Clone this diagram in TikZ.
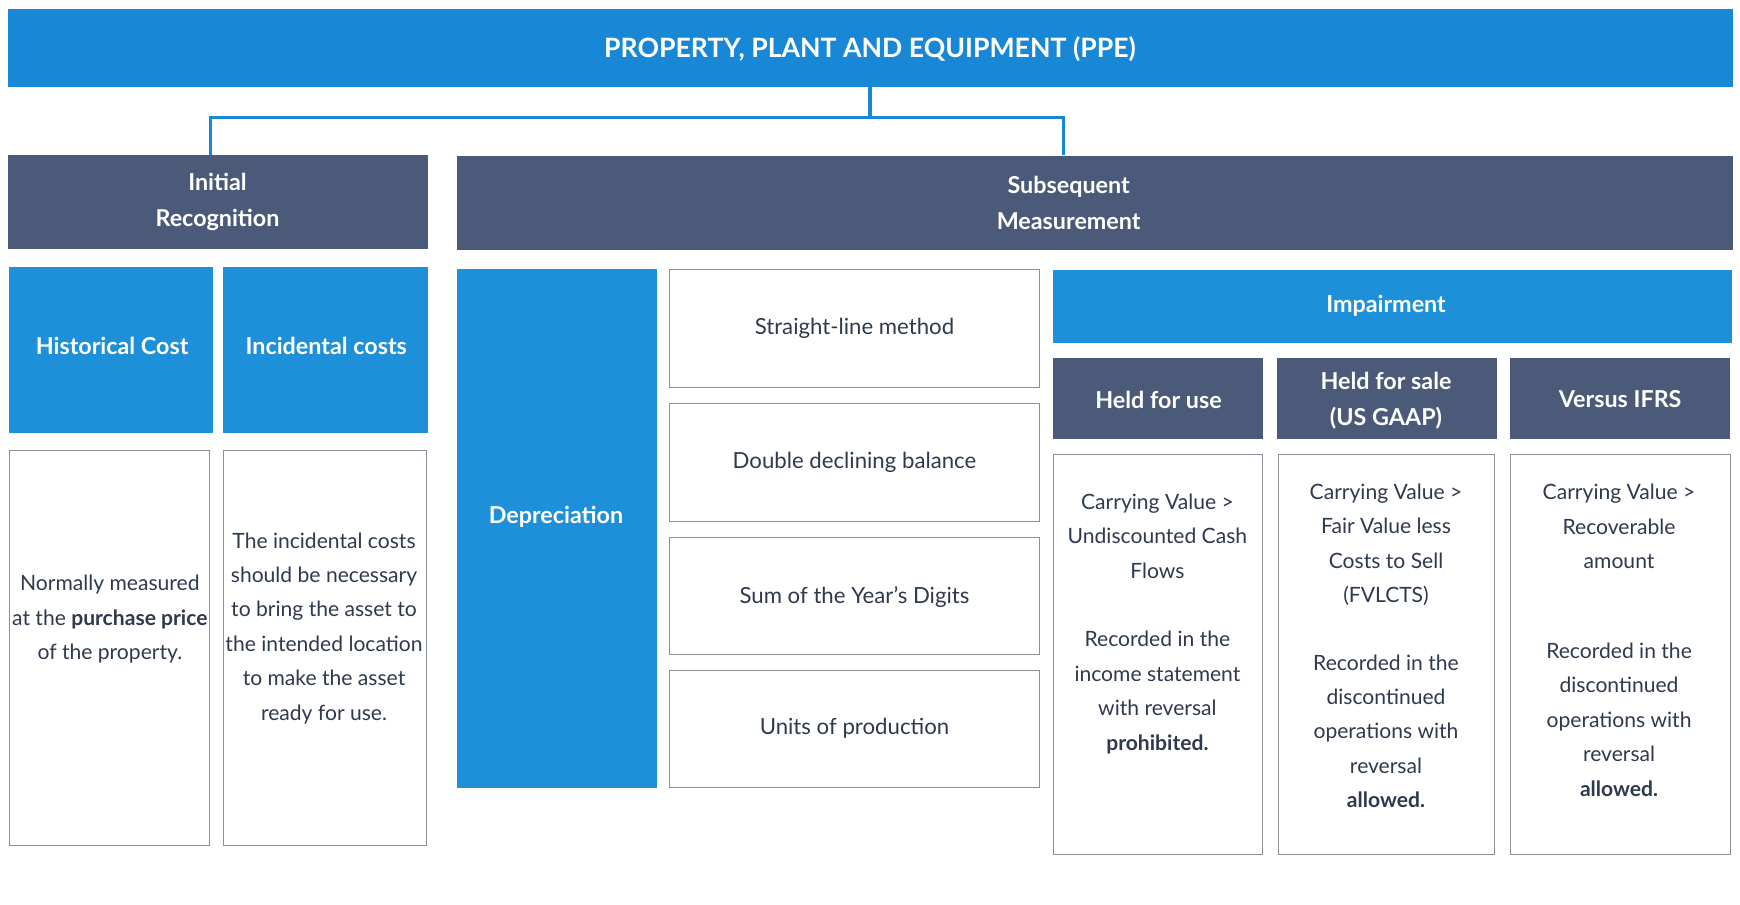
\documentclass[tikz,border=0pt]{standalone}
\usepackage{fontspec}
\setmainfont{Lato}
\definecolor{topblue}{HTML}{1787D6}
\definecolor{lblue}{HTML}{1E90DA}
\definecolor{slate}{HTML}{4A5A78}
\definecolor{txt}{HTML}{2E3A4E}
\definecolor{bord}{HTML}{8A8F98}
\begin{document}
\begin{tikzpicture}[x=1pt,y=-1pt,
 box/.style={draw=bord,line width=0.9pt,fill=white,inner sep=0pt},
 dark/.style={fill=slate,draw=none},
 blue/.style={fill=lblue,draw=none},
 wt/.style={text=white,font=\fontsize{21}{33}\selectfont\bfseries,align=center},
 bt/.style={text=txt,font=\fontsize{19}{31}\selectfont,align=center},
 conn/.style={draw=topblue,line width=2.8pt}]
\useasboundingbox (0,0) rectangle (1568,815);
\fill[topblue] (7,8) rectangle (1562,78);
\node[wt,font=\fontsize{24}{28}\selectfont\bfseries] (ppe) at (784,44) {PROPERTY, PLANT AND EQUIPMENT (PPE)};
\coordinate (ppeb) at (784,78);
\fill[dark] (7,140) rectangle (386,224);
\node[wt] (ir) at (196,182) {Initial\\Recognition};
\coordinate (irt) at (190,140);
\fill[dark] (412,141) rectangle (1562,225);
\node[wt] (sm) at (963,183) {Subsequent\\Measurement};
\coordinate (smt) at (958,140);
\draw[conn] (ppeb) -- (784,106) -| (irt);
\draw[conn] (784,106) -| (smt);
\fill[blue] (8,241) rectangle (192,390); \node[wt] (hc) at (101,312) {Historical Cost};
\fill[blue] (201,241) rectangle (386,390); \node[wt] (ic) at (294,312) {Incidental costs};
\draw[box] (9,406) rectangle (189,762);
\node[bt] (t1) at (99,558) {Normally measured\\at the \textbf{purchase price}\\of the property.};
\draw[box] (201,406) rectangle (384,762);
\node[bt] (t2) at (292,566) {The incidental costs\\should be necessary\\to bring the asset to\\the intended location\\to make the asset\\ready for use.};
\fill[blue] (412,242) rectangle (592,710); \node[wt] (dep) at (501,466) {Depreciation};
\draw[box] (603,243) rectangle (937,349); \node[bt,font=\fontsize{20}{31}\selectfont] (m1) at (770,296) {Straight-line method};
\draw[box] (603,364) rectangle (937,470); \node[bt,font=\fontsize{20}{31}\selectfont] (m2) at (770,417) {Double declining balance};
\draw[box] (603,484) rectangle (937,590); \node[bt,font=\fontsize{20}{31}\selectfont] (m3) at (770,538) {Sum of the Year’s Digits};
\draw[box] (603,604) rectangle (937,710); \node[bt,font=\fontsize{20}{31}\selectfont] (m4) at (770,656) {Units of production};
\fill[blue] (949,243) rectangle (1561,309); \node[wt] (imp) at (1249,276) {Impairment};
\fill[dark] (949,323) rectangle (1138,396); \node[wt] (hu) at (1044,360) {Held for use};
\fill[dark] (1151,323) rectangle (1349,396); \node[wt] (hs) at (1249,361) {Held for sale\\(US GAAP)};
\fill[dark] (1361,323) rectangle (1559,396); \node[wt] (vi) at (1460,360) {Versus IFRS};
\draw[box] (949,410) rectangle (1138,770);
\node[bt] (b1) at (1043,562) {Carrying Value >\\Undiscounted Cash\\Flows\\[31pt]Recorded in the\\income statement\\with reversal\\\textbf{prohibited.}};
\draw[box] (1152,410) rectangle (1347,770);
\node[bt] (b2) at (1249,582) {Carrying Value >\\Fair Value less\\Costs to Sell\\(FVLCTS)\\[30pt]Recorded in the\\discontinued\\operations with\\reversal\\\textbf{allowed.}};
\draw[box] (1361,410) rectangle (1559,770);
\node[bt] (b3) at (1459,577) {Carrying Value >\\Recoverable\\amount\\[50pt]Recorded in the\\discontinued\\operations with\\reversal\\\textbf{allowed.}};
\end{tikzpicture}
\end{document}
